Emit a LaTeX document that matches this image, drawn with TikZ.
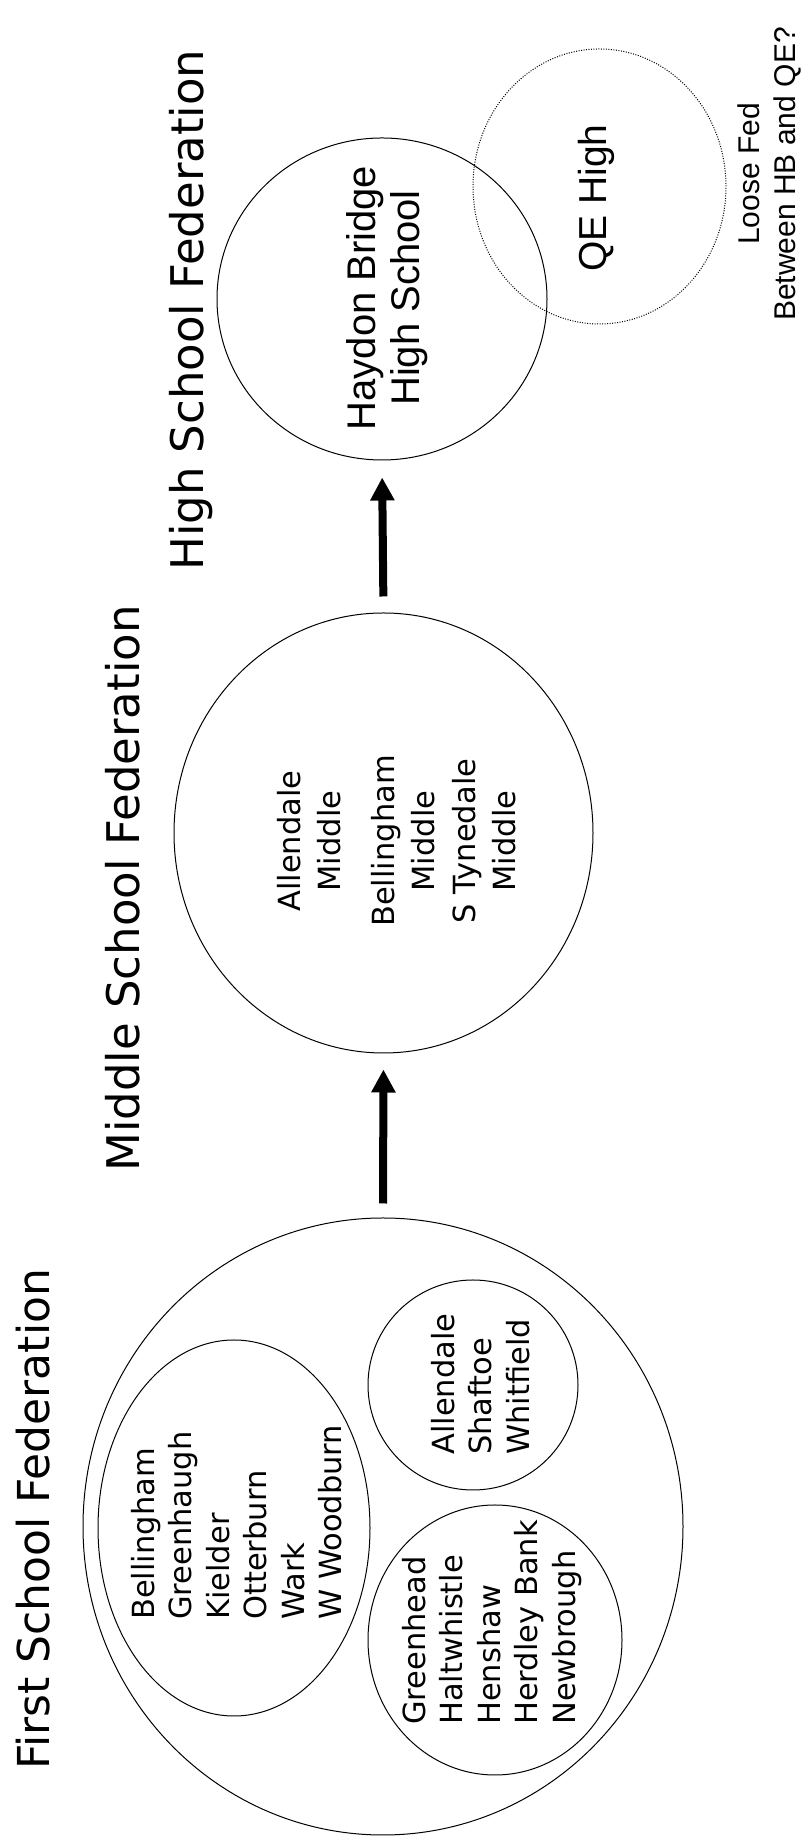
\documentclass[tikz,border=0pt]{standalone}
\usepackage{fontspec}
\setmainfont{DejaVu Sans}
\newfontfamily\arialfont{Liberation Sans}
\usepackage{tikz}
\usetikzlibrary{shapes.geometric, arrows.meta}

\begin{document}
\begin{tikzpicture}[>={Triangle[width=23bp,length=23bp]},line join=bevel,
    fed/.style={draw=black,ellipse,inner sep=0pt,line width=1bp},
    loose/.style={fed,dash pattern=on 1bp off 1.5bp},
    fedtitle/.style={rotate=90,anchor=base west,inner sep=0pt,font=\fontsize{45bp}{54bp}\selectfont},
    schools/.style={rotate=90,anchor=north west,align=left,inner sep=0pt,font=\fontsize{30.5bp}{37.5bp}\selectfont},
    feeds/.style={->,line width=8bp}]
      \useasboundingbox (0bp,0bp) rectangle (807bp,1843bp);
      %% federations
      \node (first) at (383.0bp,316.5bp) [fed,minimum width=600bp,minimum height=617bp] {};
      \node (north) at (234.0bp,315.0bp) [fed,minimum width=272bp,minimum height=376bp] {};
      \node (east) at (473.0bp,458.0bp) [fed,minimum width=210bp,minimum height=210bp] {};
      \node (west) at (495.0bp,203.0bp) [fed,minimum width=254bp,minimum height=270bp] {};
      \node (middle) at (383.5bp,1010.0bp) [fed,minimum width=419bp,minimum height=440bp] {};
      \node (high) at (382.0bp,1544.0bp) [fed,minimum width=330bp,minimum height=322bp] {};
      \node (qe) at (599.5bp,1656.5bp) [loose,minimum width=253bp,minimum height=275bp] {};
      %% titles
      \node (t1) at (49.0bp,73.0bp) [fedtitle,font=\fontsize{44bp}{53bp}\selectfont] {First School Federation};
      \node (t2) at (139.5bp,671.0bp) [fedtitle] {Middle School Federation};
      \node (t3) at (203.0bp,1272.0bp) [fedtitle] {High School Federation};
      %% schools
      \node (n1) at (131.0bp,223.0bp) [schools] {Bellingham\\Greenhaugh\\Kielder\\Otterburn\\Wark\\W Woodburn};
      \node (e1) at (431.0bp,388.0bp) [schools] {Allendale\\Shaftoe\\Whitfield};
      \node (w1) at (402.0bp,118.0bp) [schools] {Greenhead\\Haltwhistle\\Henshaw\\Herdley Bank\\Newbrough};
      \node (m1) at (277.0bp,1002.0bp) [schools,anchor=north,align=center,font=\fontsize{30.5bp}{40.5bp}\selectfont] {Allendale\\Middle\\[13bp]Bellingham\\Middle\\S Tynedale\\Middle};
      \node (h1) at (346.0bp,1545.0bp) [schools,anchor=north,align=center,font=\arialfont\fontsize{40bp}{44bp}\selectfont] {Haydon Bridge\\High School};
      \node (q1) at (578.0bp,1645.0bp) [schools,anchor=north,font=\arialfont\fontsize{39bp}{44bp}\selectfont] {QE High};
      \node (q2) at (738.0bp,1669.0bp) [schools,anchor=north,align=center,font=\arialfont\fontsize{30bp}{36bp}\selectfont] {Loose Fed\\Between HB and QE?};
      %% feeders
      \draw [feeds,shorten <=14bp,shorten >=16bp] (first.north) -- (middle.south);
      \draw [feeds,shorten <=16bp,shorten >=17bp] (middle.north) -- (high.south);
\end{tikzpicture}
\end{document}
